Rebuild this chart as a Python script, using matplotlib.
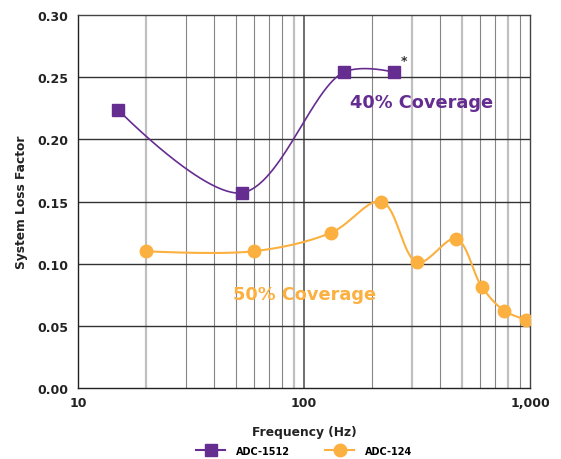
import numpy as np
import matplotlib
matplotlib.use("Agg")
import matplotlib.pyplot as plt

plt.rcParams['font.family'] = ['DejaVu Sans']
plt.rcParams['font.weight'] = 'bold'

# Data
adc1512_freq = [15, 53, 150, 250]
adc1512_loss = [0.224, 0.157, 0.254, 0.254]
adc124_freq = [20, 60, 132, 220, 317, 470, 613, 770, 960]
adc124_loss = [0.110, 0.110, 0.125, 0.150, 0.101, 0.120, 0.081, 0.062, 0.055]
series_names = ["ADC-1512", "ADC-124"]
y_ticks = [0.00, 0.05, 0.10, 0.15, 0.20, 0.25, 0.30]
x_ticks = [10, 100, 1000]
x_ticklabels = ["10", "100", "1,000"]
light_minor = [20, 90, 300, 500, 800]
dark_minor = [30, 40, 50, 60, 70, 80, 200, 400, 600, 700, 900]

PURPLE = "#662d91"
ORANGE = "#fbb040"

# pixel scale of the axes (for a display-space centripetal spline)
PX_PER_DECADE = 226.0
PX_PER_UNIT = 1244.0


def smooth(xs, ys, n=60, alpha=0.5):
    """Centripetal Catmull-Rom through the points, built in display-like space."""
    P = np.column_stack([np.log10(np.asarray(xs, float)) * PX_PER_DECADE,
                         np.asarray(ys, float) * PX_PER_UNIT])
    N = len(P)
    t = np.linspace(0, 1, n)[:, None]
    out = []
    for i in range(N - 1):
        p1, p2 = P[i], P[i + 1]
        p0 = P[i - 1] if i > 0 else None
        p3 = P[i + 2] if i + 2 < N else None
        d12 = np.linalg.norm(p2 - p1)
        l12a, l12_2a = d12 ** alpha, d12 ** (2 * alpha)
        c1 = p1.copy()
        c2 = p2.copy()
        if p0 is not None:
            d01 = np.linalg.norm(p1 - p0)
            l01a, l01_2a = d01 ** alpha, d01 ** (2 * alpha)
            a = 2 * l01_2a + 3 * l01a * l12a + l12_2a
            nn = 3 * l01a * (l01a + l12a)
            c1 = (p1 * a - p0 * l12_2a + p2 * l01_2a) / nn
        if p3 is not None:
            d23 = np.linalg.norm(p3 - p2)
            l23a, l23_2a = d23 ** alpha, d23 ** (2 * alpha)
            b = 2 * l23_2a + 3 * l23a * l12a + l12_2a
            m = 3 * l23a * (l23a + l12a)
            c2 = (p2 * b + p1 * l23_2a - p3 * l12_2a) / m
        B = ((1 - t) ** 3) * p1 + 3 * ((1 - t) ** 2) * t * c1 + 3 * (1 - t) * t ** 2 * c2 + t ** 3 * p2
        out.append(B)
    B = np.vstack(out)
    return 10 ** (B[:, 0] / PX_PER_DECADE), B[:, 1] / PX_PER_UNIT


fig = plt.figure(figsize=(5.61, 4.60), dpi=100)
ax = fig.add_axes([0.139, 0.1543, 0.806, 0.8109])
ax.set_xscale('log')
ax.set_xlim(10, 1000)
ax.set_ylim(0, 0.30)

# grid
for v in light_minor:
    ax.axvline(v, color="#c0c0c0", lw=1.6, zorder=1)
for v in dark_minor:
    ax.axvline(v, color="#858585", lw=0.8, zorder=1)
ax.axvline(100, color="#555555", lw=1.2, zorder=1)
for v in y_ticks[1:-1]:
    ax.axhline(v, color="#333333", lw=1.0, zorder=1)

for s in ax.spines.values():
    s.set_color("#444444")
    s.set_linewidth(1.0)
ax.spines['left'].set_color("#222222")
ax.spines['bottom'].set_color("#222222")

sx, sy = smooth(adc1512_freq, adc1512_loss)
ax.plot(sx, sy, color=PURPLE, lw=1.2, zorder=3)
ax.plot(adc1512_freq, adc1512_loss, ls='none', marker='s', ms=8.5, color=PURPLE, zorder=4)

ox, oy = smooth(adc124_freq, adc124_loss)
ax.plot(ox, oy, color=ORANGE, lw=1.5, zorder=3)
ax.plot(adc124_freq, adc124_loss, ls='none', marker='o', ms=9, color=ORANGE, zorder=4)

# legend proxies
h1, = ax.plot([], [], color=PURPLE, lw=1.5, marker='s', ms=8)
h2, = ax.plot([], [], color=ORANGE, lw=1.5, marker='o', ms=9)
ax_center = 0.139 + 0.806 / 2
fig.legend([h1, h2], series_names, loc='center', bbox_to_anchor=(ax_center, 0.018),
           ncol=2, frameon=False, prop={'size': 7, 'weight': 'bold'},
           handlelength=3.0, handletextpad=1.1, columnspacing=3.6)

ax.annotate("*", xy=(adc1512_freq[-1], adc1512_loss[-1]), xytext=(5, 4),
            textcoords='offset points', fontsize=9, color="#333333", ha='left', va='bottom')

ax.text(160, 0.23, "40% Coverage", color=PURPLE, fontsize=12.8, fontweight='bold', va='center', ha='left')
ax.text(48.5, 0.0756, "50% Coverage", color=ORANGE, fontsize=12.8, fontweight='bold', va='center', ha='left')

ax.set_xticks(x_ticks)
ax.set_xticklabels(x_ticklabels)
ax.xaxis.set_minor_locator(matplotlib.ticker.NullLocator())
ax.set_yticks(y_ticks)
ax.set_yticklabels([f"{v:.2f}" for v in y_ticks])
ax.tick_params(axis='both', length=0, labelsize=9, colors="#222222")
ax.tick_params(axis='y', pad=7)
ax.tick_params(axis='x', pad=6)

ax.set_xlabel("Frequency (Hz)", fontsize=8.8, fontweight='bold', color="#222222", labelpad=11)
ax.set_ylabel("System Loss Factor", fontsize=8.8, fontweight='bold', color="#222222", labelpad=7)

fig.savefig("out.png", dpi=100)
